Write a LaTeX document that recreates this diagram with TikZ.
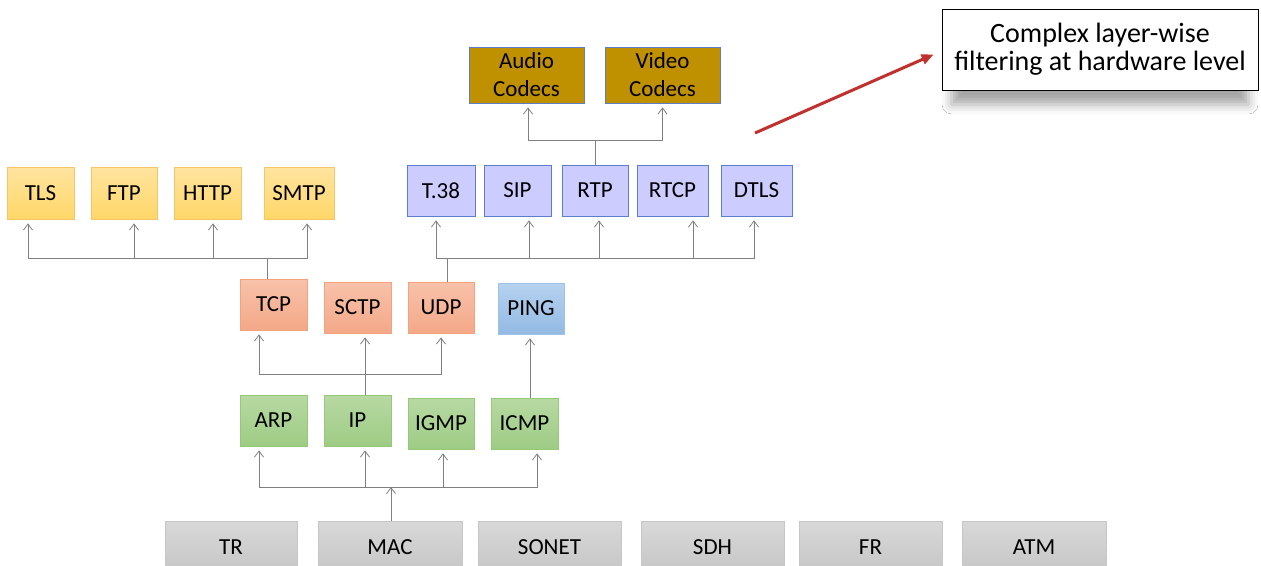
\documentclass[tikz,border=0pt]{standalone}
\usepackage{fontspec}
\setmainfont{Carlito}
\usetikzlibrary{arrows.meta,shadows.blur}
\definecolor{lnc}{HTML}{808080}
\definecolor{redc}{HTML}{C0302C}
\definecolor{yelD}{HTML}{F5C56A}\definecolor{yelT}{HTML}{FFE4A0}\definecolor{yelB}{HTML}{FFD768}
\definecolor{purD}{HTML}{5B7FC8}\definecolor{purF}{HTML}{CCCCFF}
\definecolor{orgD}{HTML}{F2A27E}\definecolor{orgT}{HTML}{F8C2AA}\definecolor{orgB}{HTML}{F4A888}
\definecolor{bluD}{HTML}{9FC3E8}\definecolor{bluT}{HTML}{B6D2EF}\definecolor{bluB}{HTML}{93BAE4}
\definecolor{grnD}{HTML}{96C87A}\definecolor{grnT}{HTML}{B7D9A3}\definecolor{grnB}{HTML}{9ECC84}
\definecolor{gryD}{HTML}{C6C6C6}\definecolor{gryT}{HTML}{D8D8D8}\definecolor{gryB}{HTML}{C6C6C6}
\definecolor{codF}{HTML}{BF9000}
\begin{document}
\begin{tikzpicture}[x=1pt,y=-1pt,
  every node/.style={font=\fontsize{23}{28}\selectfont, inner sep=0pt, align=center},
  boxbase/.style={minimum height=52pt, line width=0.8pt},
  yel/.style={boxbase, draw=yelD, top color=yelT, bottom color=yelB},
  pur/.style={boxbase, draw=purD, fill=purF},
  org/.style={boxbase, draw=orgD, top color=orgT, bottom color=orgB},
  blu/.style={boxbase, draw=bluD, top color=bluT, bottom color=bluB},
  grn/.style={boxbase, draw=grnD, top color=grnT, bottom color=grnB},
  gry/.style={boxbase, draw=gryD, top color=gryT, bottom color=gryB},
  cod/.style={minimum height=56pt, minimum width=115pt, line width=0.8pt, draw=purD, fill=codF},
  ln/.style={draw=lnc, line width=0.9pt},
  arr/.style={ln, -{Straight Barb[length=6pt,width=9pt,line width=0.8pt]}, shorten >=4pt},
  redarr/.style={draw=redc, line width=3pt, -{Triangle[length=12pt,width=10pt]}}
]
\useasboundingbox (0,0) rectangle (1261,565);
\fill[white] (0,0) rectangle (1261,565);

% application layer
\node[yel, minimum width=67pt] (tls)  at (40.5,193) {TLS};
\node[yel, minimum width=66pt] (ftp)  at (124,193) {FTP};
\node[yel, minimum width=67pt] (http) at (207.5,193) {HTTP};
\node[yel, minimum width=70pt] (smtp) at (299,193) {SMTP};

\node[pur, minimum width=68pt, minimum height=51pt] (t38)  at (441,190.5) {T.38};
\node[pur, minimum width=67pt, minimum height=51pt] (sip)  at (517.5,190.5) {SIP};
\node[pur, minimum width=66pt, minimum height=51pt] (rtp)  at (595,190.5) {RTP};
\node[pur, minimum width=71pt, minimum height=51pt] (rtcp) at (672.5,190.5) {RTCP};
\node[pur, minimum width=71pt, minimum height=51pt] (dtls) at (756.5,190.5) {DTLS};

\node[cod] (audio) at (526.5,75) {Audio\\Codecs};
\node[cod] (video) at (662.5,75) {Video\\Codecs};

% transport
\node[org, minimum width=67pt, minimum height=51pt] (tcp)  at (273.5,304.5) {TCP};
\node[org, minimum width=67pt, minimum height=51pt] (sctp) at (357.5,307.5) {SCTP};
\node[org, minimum width=66pt, minimum height=51pt] (udp)  at (441,307.5) {UDP};
\node[blu, minimum width=66pt, minimum height=51pt] (ping) at (531,308.5) {PING};

% network
\node[grn, minimum width=67pt, minimum height=51pt] (arp)  at (273.5,420.5) {ARP};
\node[grn, minimum width=67pt, minimum height=51pt] (ip)   at (357.5,420.5) {IP};
\node[grn, minimum width=66pt, minimum height=51pt] (igmp) at (441,423.5) {IGMP};
\node[grn, minimum width=67pt, minimum height=51pt] (icmp) at (524.5,423.5) {ICMP};

% link
\node[gry, minimum width=132pt] (tr)    at (231,547) {TR};
\node[gry, minimum width=144pt] (mac)   at (390,547) {MAC};
\node[gry, minimum width=143pt] (sonet) at (549.5,547) {SONET};
\node[gry, minimum width=143pt] (sdh)   at (712.5,547) {SDH};
\node[gry, minimum width=143pt] (fr)    at (870.5,547) {FR};
\node[gry, minimum width=144pt] (atm)   at (1034,547) {ATM};

% callout
\node[draw=black, line width=0.8pt, fill=white, minimum width=316pt, minimum height=81pt,
      font=\fontsize{28}{28}\selectfont,
      blur shadow={shadow xshift=0pt, shadow yshift=-18pt, shadow blur radius=10pt, shadow opacity=35, shadow scale=0.94}]
      (call) at (1100,49.5) {Complex layer-wise\\filtering at hardware level};
\coordinate (rs) at (755,133);
\draw[redarr] (rs) -- ([xshift=-8pt,yshift=-5pt]call.west);

% TCP -> application
\coordinate (b1) at (267,258);
\draw[ln] ([xshift=-6.5pt]tcp.north) -- (b1);
\draw[arr] (b1) -| ([xshift=-12.5pt]tls.south);
\draw[arr] (b1) -| ([xshift=10pt]ftp.south);
\draw[arr] (b1) -| ([xshift=5.5pt]http.south);
\draw[arr] (b1) -| ([xshift=8pt]smtp.south);

% UDP -> media
\coordinate (b2) at (447,258);
\draw[ln] ([xshift=6pt]udp.north) -- (b2);
\draw[arr] (b2) -| ([xshift=-5pt]t38.south);
\draw[arr] (b2) -| ([xshift=11.5pt]sip.south);
\draw[arr] (b2) -| ([xshift=4pt]rtp.south);
\draw[arr] (b2) -| ([xshift=20.5pt]rtcp.south);
\draw[arr] (b2) -| ([xshift=-2.5pt]dtls.south);

% RTP -> codecs
\coordinate (b3) at (595,140);
\draw[ln] (rtp.north) -- (b3);
\draw[arr] (b3) -| ([xshift=1.5pt]audio.south);
\draw[arr] (b3) -| (video.south);

% IP -> transport
\coordinate (b4) at (365,374);
\draw[arr] ([xshift=7.5pt]ip.north) -- ([xshift=7.5pt]sctp.south);
\draw[arr] (b4) -| ([xshift=-14.5pt]tcp.south);
\draw[arr] (b4) -| (udp.south);
\draw[arr] ([xshift=5.5pt]icmp.north) -- ([xshift=-1pt]ping.south);

% MAC -> network
\coordinate (b5) at (391,487);
\draw[arr, shorten >=0pt] ([xshift=1pt]mac.north) -- (b5);
\draw[arr] (b5) -| ([xshift=-14.5pt]arp.south);
\draw[arr] (b5) -| ([xshift=7.5pt]ip.south);
\draw[arr] (b5) -| ([xshift=2pt]igmp.south);
\draw[arr] (b5) -| ([xshift=12.5pt]icmp.south);
\end{tikzpicture}
\end{document}
